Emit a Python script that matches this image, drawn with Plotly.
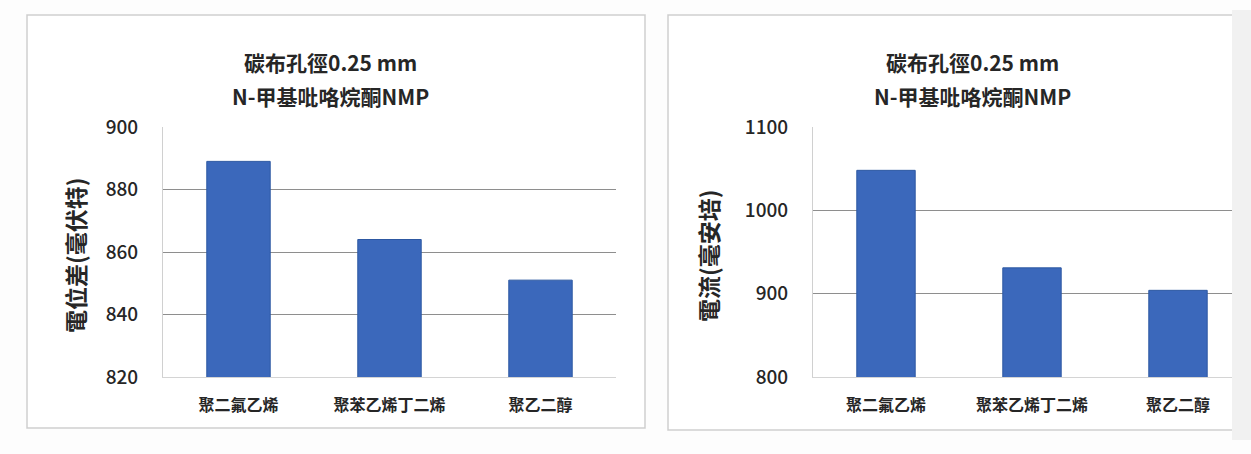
import plotly.graph_objects as go

# Binder materials tested on carbon cloth (0.25 mm pores) with NMP solvent
categories = ["聚二氟乙烯", "聚苯乙烯丁二烯", "聚乙二醇"]
voltage_mv = [889, 864, 851]      # 電位差 (毫伏特)
current_ma = [1048, 931, 904]     # 電流 (毫安培)

title_lines = ["碳布孔徑0.25 mm", "N-甲基吡咯烷酮NMP"]
voltage_title = "電位差(毫伏特)"
current_title = "電流(毫安培)"
voltage_ticks = [820, 840, 860, 880, 900]
current_ticks = [800, 900, 1000, 1100]

W, H = 1251, 454
FONT = "Noto Sans CJK TC"
TEXT = "#262626"
BAR = "#3b68bb"
BAR_EDGE = "#2d58a2"
GRID = "#8e8e8e"


def px_x(v):
    return v / W


def px_y(v):
    return 1 - v / H


fig = go.Figure()
fig.add_trace(go.Bar(x=categories, y=voltage_mv, xaxis="x", yaxis="y",
                     marker=dict(color=BAR, line=dict(color=BAR_EDGE, width=1)),
                     width=0.42, hoverinfo="x+y"))
fig.add_trace(go.Bar(x=categories, y=current_ma, xaxis="x2", yaxis="y2",
                     marker=dict(color=BAR, line=dict(color=BAR_EDGE, width=1)),
                     width=0.40, hoverinfo="x+y"))

y_dom = [px_y(377), px_y(127)]
common_x = dict(showgrid=False, showline=True, linecolor="#d4d4d4", linewidth=1,
                ticks="", tickfont=dict(family=FONT, size=16, color=TEXT, weight="bold"),
                ticklabelstandoff=14, fixedrange=True)
common_y = dict(showgrid=True, gridcolor=GRID, gridwidth=1, zeroline=False,
                showline=True, linecolor="#d0d0d0", linewidth=1, ticks="",
                tickfont=dict(family=FONT, size=19, color=TEXT, weight=500),
                ticklabelstandoff=20, fixedrange=True)

fig.update_layout(
    width=W, height=H,
    margin=dict(l=0, r=0, t=0, b=0, autoexpand=False),
    paper_bgcolor="#fdfdfd",
    plot_bgcolor="#ffffff",
    showlegend=False,
    bargap=0.58,
    xaxis=dict(domain=[px_x(163), px_x(616)], anchor="y", **common_x),
    yaxis=dict(domain=y_dom, anchor="x", range=[820, 900], tickvals=voltage_ticks,
               **common_y),
    xaxis2=dict(domain=[px_x(813), 1.0], anchor="y2", **common_x),
    yaxis2=dict(domain=y_dom, anchor="x2", range=[800, 1100], tickvals=current_ticks,
                **common_y),
)

# Panel frames
shapes = [
    dict(type="rect", xref="paper", yref="paper", layer="below",
         x0=px_x(27), x1=px_x(645), y0=px_y(428), y1=px_y(15),
         line=dict(color="#cfcfcf", width=1.5), fillcolor="#ffffff"),
    dict(type="rect", xref="paper", yref="paper", layer="below",
         x0=px_x(668), x1=px_x(1260), y0=px_y(430), y1=px_y(15),
         line=dict(color="#cfcfcf", width=1.5), fillcolor="#ffffff"),
    # cropped right margin strip
    dict(type="rect", xref="paper", yref="paper", layer="above",
         x0=px_x(1232), x1=px_x(1260), y0=px_y(440), y1=px_y(10),
         line=dict(width=0), fillcolor="#f1f1f1"),
]
fig.update_layout(shapes=shapes)

annotations = []
for cx in (330, 972):
    for line, cy in zip(title_lines, (62, 96)):
        annotations.append(dict(text=line, x=px_x(cx), y=px_y(cy), xref="paper", yref="paper",
                                showarrow=False, xanchor="center", yanchor="middle",
                                font=dict(family=FONT, size=21, color=TEXT, weight=600)))
for txt, cx in ((voltage_title, 75), (current_title, 708)):
    annotations.append(dict(text=txt, x=px_x(cx), y=px_y(256), xref="paper", yref="paper",
                            showarrow=False, textangle=-90, xanchor="center", yanchor="middle",
                            font=dict(family=FONT, size=23, color=TEXT, weight="bold")))
fig.update_layout(annotations=annotations)

fig.write_html("out.html")
